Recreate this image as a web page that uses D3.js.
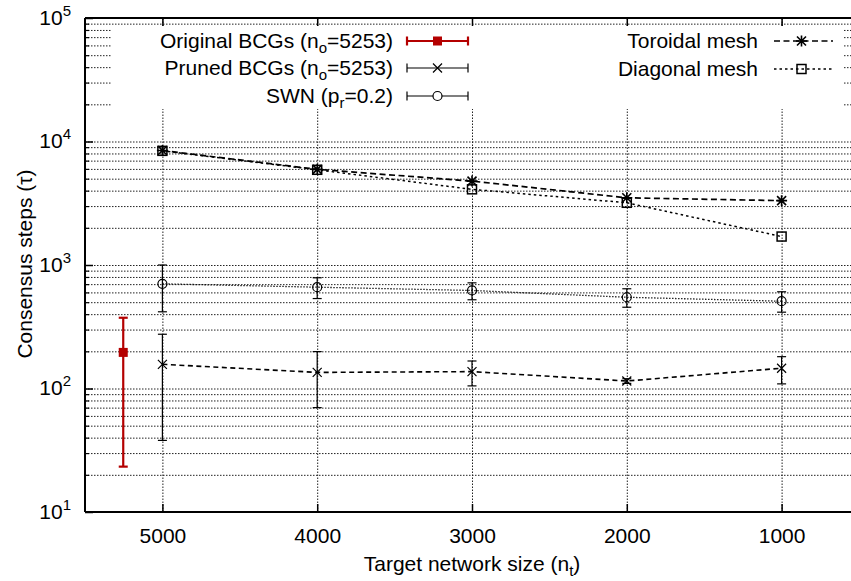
<!DOCTYPE html>
<html>
<head>
<meta charset="utf-8">
<script src="https://cdn.jsdelivr.net/npm/d3@7"></script>
<style>
  body { margin: 0; background: #fff; }
  svg { display: block; font-family: "Liberation Sans", Arial, Helvetica, sans-serif; }
</style>
</head>
<body>
<svg id="chart" width="851" height="581"></svg>
<script>
// ---- data ----
const sizes = [5000, 4000, 3000, 2000, 1000];
const xTickLabels = ["5000", "4000", "3000", "2000", "1000"];
const yMajorTicks = [10, 100, 1000, 10000, 100000];
const yTickExponents = ["1", "2", "3", "4", "5"];

const originalSize = [5253];
const originalMean = [196];
const originalLow = [23.3];
const originalHigh = [374];

const prunedMean = [157, 135, 137, 115, 146];
const prunedLow = [38, 70, 105, 110, 109];
const prunedHigh = [275, 199, 167, 120, 181];

const swnMean = [704, 661, 622, 548, 509];
const swnLow = [418, 535, 523, 455, 415];
const swnHigh = [1000, 788, 717, 642, 607];

const toroidalMean = [8450, 5950, 4780, 3500, 3320];
const diagonalMean = [8400, 5900, 4100, 3190, 1700];

// ---- layout ----
const svg = d3.select("#chart");
const L = 85, T = 18, B = 512, R = 859;
const FS = 21;
const x = d3.scaleLinear().domain([5500, 500]).range([L, R]);
const y = d3.scaleLog().domain([10, 100000]).range([B, T]);

const minorTicks = [];
for (let e = 1; e < 5; e++) for (let m = 2; m <= 9; m++) minorTicks.push(m * Math.pow(10, e));

const RED = "#b40000";
const gridDash = "1.5,1.5";

// grid lines
svg.append("g").attr("transform", `translate(${L},0)`)
  .call(d3.axisLeft(y).tickValues(yMajorTicks.concat(minorTicks)).tickSize(-(R - L)).tickFormat(""))
  .call(g => g.select(".domain").remove())
  .call(g => g.selectAll("line").attr("stroke", "#222").attr("stroke-width", 1).attr("stroke-dasharray", gridDash));
svg.append("g").attr("transform", `translate(0,${B})`)
  .call(d3.axisBottom(x).tickValues(sizes).tickSize(-(B - T)).tickFormat(""))
  .call(g => g.select(".domain").remove())
  .call(g => g.selectAll("line").attr("stroke", "#222").attr("stroke-width", 1).attr("stroke-dasharray", gridDash));

// legend background (opaque key box)
svg.append("rect").attr("x", 111).attr("y", 27).attr("width", 732).attr("height", 82).attr("fill", "#fff");

// axes: ticks inward
const xAxis = svg.append("g").attr("transform", `translate(0,${B})`)
  .call(d3.axisBottom(x).tickValues(sizes).tickSizeInner(-8).tickSizeOuter(0).tickPadding(16)
    .tickFormat((d, i) => xTickLabels[i]));
xAxis.select(".domain").remove();
xAxis.selectAll("line").attr("stroke", "#000").attr("stroke-width", 1.5);
xAxis.selectAll("text").attr("font-size", FS).attr("fill", "#000")
  .attr("font-family", "Liberation Sans, Arial, sans-serif");

const xAxisTop = svg.append("g").attr("transform", `translate(0,${T})`)
  .call(d3.axisTop(x).tickValues(sizes).tickSizeInner(-8).tickSizeOuter(0).tickFormat(""));
xAxisTop.select(".domain").remove();
xAxisTop.selectAll("line").attr("stroke", "#000").attr("stroke-width", 1.5);

const yAxis = svg.append("g").attr("transform", `translate(${L},0)`)
  .call(d3.axisLeft(y).tickValues(yMajorTicks).tickSizeInner(-8).tickSizeOuter(0).tickPadding(14).tickFormat(""));
yAxis.select(".domain").remove();
yAxis.selectAll("line").attr("stroke", "#000").attr("stroke-width", 1.5);
yAxis.selectAll(".tick text").each(function (d, i) {
  const t = d3.select(this).attr("font-size", FS).attr("fill", "#000").attr("dy", "0.3em")
    .attr("font-family", "Liberation Sans, Arial, sans-serif");
  t.append("tspan").text("10");
  t.append("tspan").attr("font-size", 15).attr("dy", -9).text(yTickExponents[i]);
});

const yMinor = svg.append("g").attr("transform", `translate(${L},0)`)
  .call(d3.axisLeft(y).tickValues(minorTicks).tickSizeInner(-4).tickSizeOuter(0).tickFormat(""));
yMinor.select(".domain").remove();
yMinor.selectAll("line").attr("stroke", "#000").attr("stroke-width", 1.2);

// border
svg.append("line").attr("x1", L).attr("x2", L).attr("y1", T).attr("y2", B).attr("stroke", "#000").attr("stroke-width", 2);
svg.append("line").attr("x1", L).attr("x2", 851).attr("y1", T).attr("y2", T).attr("stroke", "#000").attr("stroke-width", 2);
svg.append("line").attr("x1", L).attr("x2", 851).attr("y1", B).attr("y2", B).attr("stroke", "#000").attr("stroke-width", 2);

// axis titles
const xt = svg.append("text").attr("x", 472).attr("y", 571).attr("text-anchor", "middle")
  .attr("font-size", FS).attr("fill", "#000");
xt.append("tspan").text("Target network size (n");
xt.append("tspan").attr("font-size", 15).attr("dy", 5).text("t");
xt.append("tspan").attr("dy", -5).text(")");

svg.append("text").attr("transform", "translate(32,264) rotate(-90)").attr("text-anchor", "middle")
  .attr("font-size", FS).attr("fill", "#000").text("Consensus steps (\u03c4)");

// ---- marker helpers ----
function drawMarker(g, type, cx, cy, color) {
  if (type === "fsquare") {
    g.append("rect").attr("x", cx - 4.5).attr("y", cy - 4.5).attr("width", 9).attr("height", 9).attr("fill", color);
  } else if (type === "square") {
    g.append("rect").attr("x", cx - 4.5).attr("y", cy - 4.5).attr("width", 9).attr("height", 9)
      .attr("fill", "none").attr("stroke", color).attr("stroke-width", 1.5);
  } else if (type === "circle") {
    g.append("circle").attr("cx", cx).attr("cy", cy).attr("r", 4.5).attr("fill", "none").attr("stroke", color).attr("stroke-width", 1.2);
  } else if (type === "cross") {
    const s = 4.5;
    g.append("path").attr("d", `M${cx - s},${cy - s}L${cx + s},${cy + s}M${cx - s},${cy + s}L${cx + s},${cy - s}`)
      .attr("stroke", color).attr("stroke-width", 1.2).attr("fill", "none");
  } else if (type === "star") {
    const s = 4.5;
    g.append("path").attr("d",
      `M${cx - s},${cy - s}L${cx + s},${cy + s}M${cx - s},${cy + s}L${cx + s},${cy - s}M${cx - s - 1},${cy}L${cx + s + 1},${cy}M${cx},${cy - s - 1}L${cx},${cy + s + 1}`)
      .attr("stroke", color).attr("stroke-width", 1.6).attr("fill", "none");
  }
}
function drawErr(g, cx, lo, hi, color, w) {
  g.append("line").attr("x1", cx).attr("x2", cx).attr("y1", y(lo)).attr("y2", y(hi)).attr("stroke", color).attr("stroke-width", w);
  [lo, hi].forEach(v => g.append("line").attr("x1", cx - 4.5).attr("x2", cx + 4.5).attr("y1", y(v)).attr("y2", y(v))
    .attr("stroke", color).attr("stroke-width", w));
}

const series = [
  { xs: sizes, mean: diagonalMean, marker: "square", dash: "2.5,3", lw: 1.5, color: "#000" },
  { xs: sizes, mean: toroidalMean, marker: "star", dash: "6,3.5", lw: 1.7, color: "#000" },
  { xs: sizes, mean: swnMean, lo: swnLow, hi: swnHigh, marker: "circle", dash: "1.3,1.7", lw: 1.3, color: "#000" },
  { xs: sizes, mean: prunedMean, lo: prunedLow, hi: prunedHigh, marker: "cross", dash: "5,3.5", lw: 1.6, color: "#000" },
  { xs: originalSize, mean: originalMean, lo: originalLow, hi: originalHigh, marker: "fsquare", dash: null, lw: 2.2, color: RED }
];

const line = d3.line();
series.forEach(s => {
  const g = svg.append("g");
  if (s.xs.length > 1) {
    g.append("path").attr("d", line(s.xs.map((v, i) => [x(v), y(s.mean[i])])))
      .attr("fill", "none").attr("stroke", s.color).attr("stroke-width", s.lw).attr("stroke-dasharray", s.dash);
  }
  s.xs.forEach((v, i) => {
    if (s.lo) drawErr(g, x(v), s.lo[i], s.hi[i], s.color, s.marker === "fsquare" ? 2.2 : 1.2);
    drawMarker(g, s.marker, x(v), y(s.mean[i]), s.color);
  });
});

// ---- legend ----
const legendLeft = [
  { parts: ["Original BCGs (n", "o", "=5253)"], marker: "fsquare", color: RED, lw: 2.2, y: 41 },
  { parts: ["Pruned BCGs (n", "o", "=5253)"], marker: "cross", color: "#000", lw: 1.2, y: 68 },
  { parts: ["SWN (p", "r", "=0.2)"], marker: "circle", color: "#000", lw: 1.2, y: 96 }
];
legendLeft.forEach(e => {
  const t = svg.append("text").attr("x", 393).attr("y", e.y + 7).attr("text-anchor", "end").attr("font-size", FS).attr("fill", "#000");
  t.append("tspan").text(e.parts[0]);
  t.append("tspan").attr("font-size", 15).attr("dy", 5).text(e.parts[1]);
  t.append("tspan").attr("dy", -5).text(e.parts[2]);
  const g = svg.append("g");
  g.append("line").attr("x1", 407).attr("x2", 468).attr("y1", e.y).attr("y2", e.y).attr("stroke", e.color).attr("stroke-width", e.lw);
  [407, 468].forEach(xx => g.append("line").attr("x1", xx).attr("x2", xx).attr("y1", e.y - 4.5).attr("y2", e.y + 4.5)
    .attr("stroke", e.color).attr("stroke-width", e.lw));
  if (e.marker === "circle") {
    g.append("circle").attr("cx", 437.5).attr("cy", e.y).attr("r", 4.5).attr("fill", "#fff").attr("stroke", "#000").attr("stroke-width", 1.2);
  } else drawMarker(g, e.marker, 437.5, e.y, e.color);
});

const legendRight = [
  { label: "Toroidal mesh", marker: "star", dash: "6,3.5", lw: 1.7, y: 41 },
  { label: "Diagonal mesh", marker: "square", dash: "2.5,3", lw: 1.5, y: 69 }
];
legendRight.forEach(e => {
  svg.append("text").attr("x", 758).attr("y", e.y + 7).attr("text-anchor", "end").attr("font-size", FS).attr("fill", "#000").text(e.label);
  const g = svg.append("g");
  g.append("line").attr("x1", 774).attr("x2", 833).attr("y1", e.y).attr("y2", e.y).attr("stroke", "#000")
    .attr("stroke-width", e.lw).attr("stroke-dasharray", e.dash);
  drawMarker(g, e.marker, 801.5, e.y, "#000");
});
</script>
</body>
</html>
